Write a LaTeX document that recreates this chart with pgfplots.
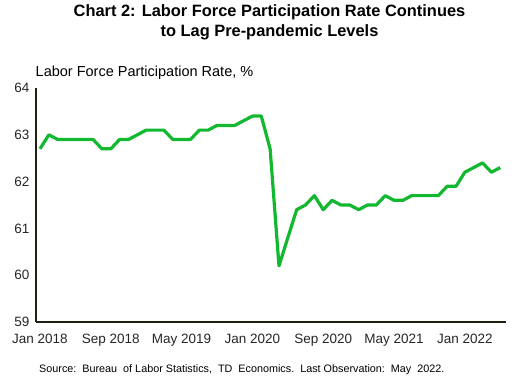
\documentclass[border=0pt]{standalone}
\usepackage{pgfplots}
\pgfplotsset{compat=1.18}
\usepackage{fontspec}
\setmainfont{Liberation Sans}
\definecolor{lfgreen}{RGB}{18,184,48}
\definecolor{axdark}{RGB}{32,32,16}
\begin{document}
\begin{tikzpicture}[x=1bp,y=1bp]
\path[use as bounding box] (0,0) rectangle (515,384);
\node[font=\bfseries\fontsize{16.4bp}{19.5bp}\selectfont, align=center, anchor=center] at (269.5,384-22.5) {Chart 2: Labor Force Participation Rate Continues\\to Lag Pre-pandemic Levels};
\node[font=\fontsize{14.5bp}{17bp}\selectfont, anchor=west, inner sep=0pt] at (35.5,384-73) {Labor Force Participation Rate, \%};
\node[font=\fontsize{10.8bp}{12bp}\selectfont, anchor=west, inner sep=0pt] at (39,384-370) {Source:\ \ Bureau\ \ of Labor Statistics,\ \ TD\ \ Economics.\ \ Last Observation:\ \ May\ \ 2022.};
\begin{axis}[
  at={(36bp,62bp)}, anchor=south west,
  scale only axis, width=470bp, height=234bp,
  xmin=-0.45, xmax=52.65, ymin=59, ymax=64,
  axis x line=bottom, axis y line=left,
  axis line style={draw=axdark, line width=2bp, -},
  major tick length=0pt,
  xtick={0,8,16,24,32,40,48},
  xticklabels={Jan 2018,Sep 2018,May 2019,Jan 2020,Sep 2020,May 2021,Jan 2022},
  ytick={59,60,61,62,63,64},
  tick label style={font=\fontsize{13.5bp}{16bp}\selectfont, text=black!85},
  /pgf/number format/assume math mode=true,
  xticklabel style={yshift=-9bp},
  yticklabel style={xshift=-3bp},
  clip=false,
]
\addplot[lfgreen, line width=3.2bp, line join=round] coordinates {
(0,62.7)(1,63.0)(2,62.9)(3,62.9)(4,62.9)(5,62.9)(6,62.9)(7,62.7)(8,62.7)(9,62.9)(10,62.9)(11,63.0)
(12,63.1)(13,63.1)(14,63.1)(15,62.9)(16,62.9)(17,62.9)(18,63.1)(19,63.1)(20,63.2)(21,63.2)(22,63.2)(23,63.3)
(24,63.4)(25,63.4)(26,62.7)(27,60.2)(28,60.8)(29,61.4)(30,61.5)(31,61.7)(32,61.4)(33,61.6)(34,61.5)(35,61.5)
(36,61.4)(37,61.5)(38,61.5)(39,61.7)(40,61.6)(41,61.6)(42,61.7)(43,61.7)(44,61.7)(45,61.7)(46,61.9)(47,61.9)
(48,62.2)(49,62.3)(50,62.4)(51,62.2)(52,62.3)
};
\end{axis}
\end{tikzpicture}
\end{document}
